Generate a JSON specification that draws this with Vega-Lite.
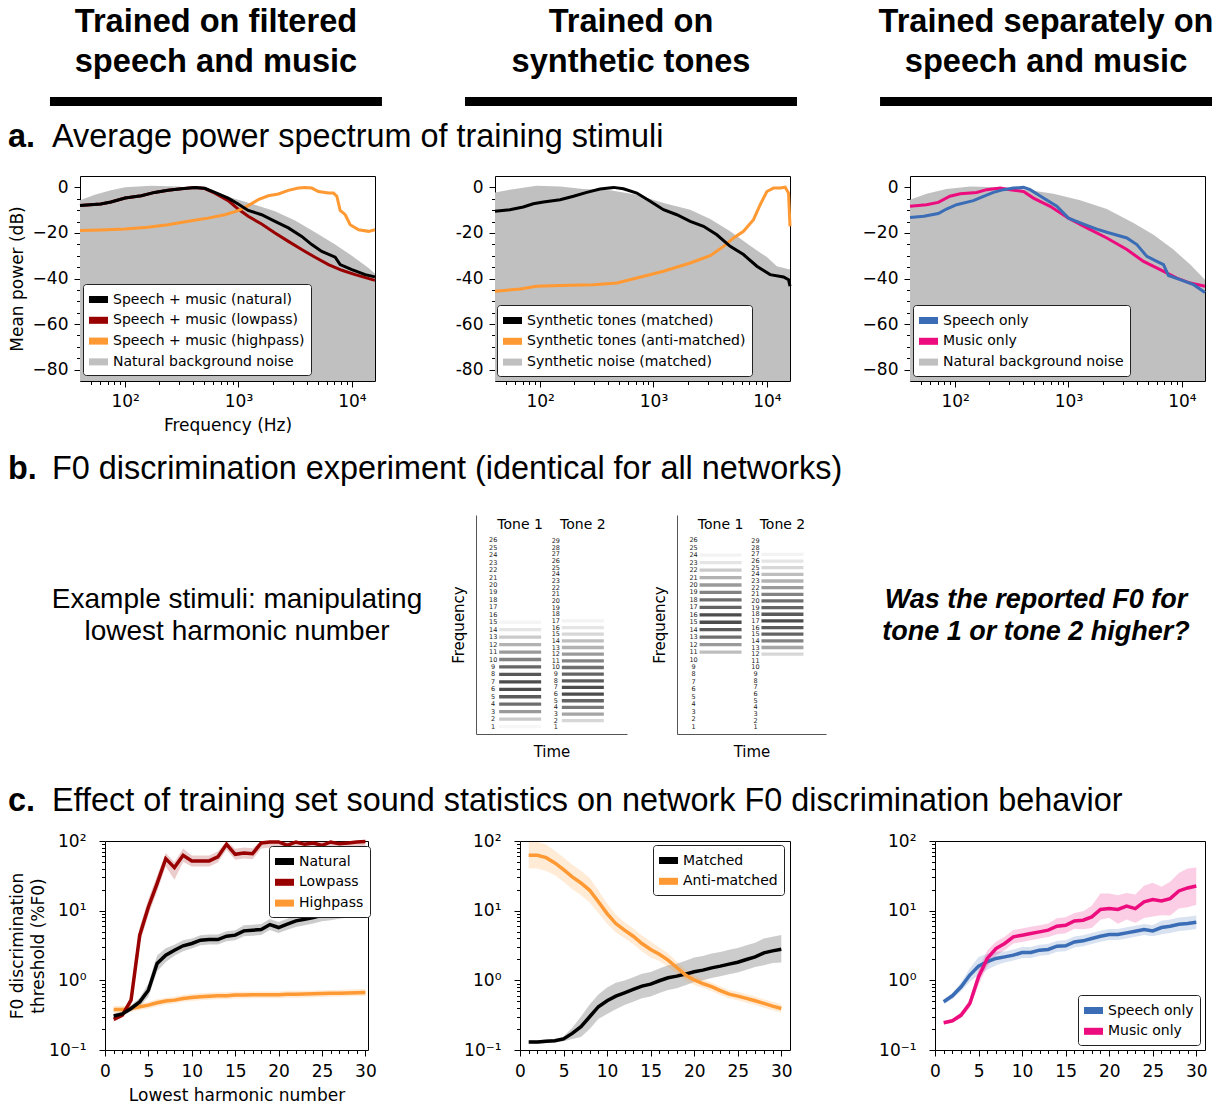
{
  "$schema": "https://vega.github.io/schema/vega-lite/v6.json",
  "width": 1225,
  "height": 1104,
  "autosize": {"type": "none"},
  "padding": 0,
  "background": "white",
  "config": {
    "view": {"stroke": null},
    "font": "DejaVu Sans",
    "axis": {
      "labelFont": "DejaVu Sans", "titleFont": "DejaVu Sans",
      "labelColor": "#000", "titleColor": "#000", "tickColor": "#000", "domainColor": "#000",
      "labelFontSize": 17, "titleFontSize": 17, "titleFontWeight": "normal",
      "grid": false, "tickWidth": 1, "domainWidth": 1,
      "labelOverlap": false, "labelFlush": false, "labelBound": false
    },
    "legend": {
      "orient": "none", "title": null,
      "labelFont": "DejaVu Sans", "labelFontSize": 14, "labelColor": "#000",
      "symbolType": "M-1,-0.37H1V0.37H-1Z", "symbolSize": 361,
      "symbolStrokeWidth": 0, "symbolOpacity": 1,
      "fillColor": "white", "strokeColor": "#222", "cornerRadius": 3,
      "padding": 6, "rowPadding": 3.8, "labelOffset": 5, "labelLimit": 400
    }
  },
  "resolve": {
    "scale": {"x": "independent", "y": "independent", "color": "independent"},
    "axis": {"x": "independent", "y": "independent"},
    "legend": {"color": "independent"}
  },
  "datasets": {
    "a1": [
      {"f":40,"db":-7.9,"s":"Speech + music (lowpass)"},{"f":61,"db":-7.3,"s":"Speech + music (lowpass)"},{"f":75,"db":-6.4,"s":"Speech + music (lowpass)"},{"f":100,"db":-4.7,"s":"Speech + music (lowpass)"},{"f":139,"db":-3.7,"s":"Speech + music (lowpass)"},{"f":182,"db":-2.2,"s":"Speech + music (lowpass)"},{"f":239,"db":-1.3,"s":"Speech + music (lowpass)"},{"f":313,"db":-0.6,"s":"Speech + music (lowpass)"},{"f":411,"db":0,"s":"Speech + music (lowpass)"},{"f":504,"db":-0.5,"s":"Speech + music (lowpass)"},{"f":618,"db":-2.5,"s":"Speech + music (lowpass)"},{"f":811,"db":-5.8,"s":"Speech + music (lowpass)"},{"f":993,"db":-9.5,"s":"Speech + music (lowpass)"},{"f":1218,"db":-12.7,"s":"Speech + music (lowpass)"},{"f":1599,"db":-16.1,"s":"Speech + music (lowpass)"},{"f":2099,"db":-20,"s":"Speech + music (lowpass)"},{"f":2754,"db":-23.7,"s":"Speech + music (lowpass)"},{"f":3613,"db":-27.3,"s":"Speech + music (lowpass)"},{"f":4739,"db":-30.7,"s":"Speech + music (lowpass)"},{"f":6218,"db":-33.9,"s":"Speech + music (lowpass)"},{"f":8167,"db":-36.4,"s":"Speech + music (lowpass)"},{"f":10706,"db":-38.3,"s":"Speech + music (lowpass)"},{"f":16000,"db":-40.8,"s":"Speech + music (lowpass)"},
      {"f":40,"db":-18.9,"s":"Speech + music (highpass)"},{"f":61,"db":-18.7,"s":"Speech + music (highpass)"},{"f":100,"db":-18.3,"s":"Speech + music (highpass)"},{"f":158,"db":-17.5,"s":"Speech + music (highpass)"},{"f":239,"db":-16.4,"s":"Speech + music (highpass)"},{"f":359,"db":-14.9,"s":"Speech + music (highpass)"},{"f":539,"db":-13.5,"s":"Speech + music (highpass)"},{"f":757,"db":-12,"s":"Speech + music (highpass)"},{"f":993,"db":-10.2,"s":"Speech + music (highpass)"},{"f":1218,"db":-8,"s":"Speech + music (highpass)"},{"f":1494,"db":-5.4,"s":"Speech + music (highpass)"},{"f":1832,"db":-3.7,"s":"Speech + music (highpass)"},{"f":2245,"db":-2.9,"s":"Speech + music (highpass)"},{"f":2754,"db":-1.3,"s":"Speech + music (highpass)"},{"f":3377,"db":-0.3,"s":"Speech + music (highpass)"},{"f":3866,"db":0,"s":"Speech + music (highpass)"},{"f":4428,"db":-0.3,"s":"Speech + music (highpass)"},{"f":5070,"db":-1.8,"s":"Speech + music (highpass)"},{"f":6218,"db":-2.5,"s":"Speech + music (highpass)"},{"f":6887,"db":-2.5,"s":"Speech + music (highpass)"},{"f":7370,"db":-3.9,"s":"Speech + music (highpass)"},{"f":7887,"db":-10.1,"s":"Speech + music (highpass)"},{"f":8738,"db":-12,"s":"Speech + music (highpass)"},{"f":9662,"db":-16.4,"s":"Speech + music (highpass)"},{"f":11460,"db":-18.6,"s":"Speech + music (highpass)"},{"f":14040,"db":-19.3,"s":"Speech + music (highpass)"},{"f":16000,"db":-18.6,"s":"Speech + music (highpass)"},
      {"f":40,"db":-7.9,"s":"Speech + music (natural)"},{"f":61,"db":-7.3,"s":"Speech + music (natural)"},{"f":75,"db":-6.4,"s":"Speech + music (natural)"},{"f":100,"db":-4.7,"s":"Speech + music (natural)"},{"f":139,"db":-3.7,"s":"Speech + music (natural)"},{"f":182,"db":-2.2,"s":"Speech + music (natural)"},{"f":239,"db":-1.3,"s":"Speech + music (natural)"},{"f":313,"db":-0.6,"s":"Speech + music (natural)"},{"f":411,"db":0,"s":"Speech + music (natural)"},{"f":504,"db":-0.4,"s":"Speech + music (natural)"},{"f":618,"db":-2.2,"s":"Speech + music (natural)"},{"f":811,"db":-4.7,"s":"Speech + music (natural)"},{"f":993,"db":-7.3,"s":"Speech + music (natural)"},{"f":1218,"db":-10.1,"s":"Speech + music (natural)"},{"f":1599,"db":-12,"s":"Speech + music (natural)"},{"f":2099,"db":-14.9,"s":"Speech + music (natural)"},{"f":2754,"db":-17.8,"s":"Speech + music (natural)"},{"f":3613,"db":-21.5,"s":"Speech + music (natural)"},{"f":4428,"db":-25.1,"s":"Speech + music (natural)"},{"f":5428,"db":-28.1,"s":"Speech + music (natural)"},{"f":7125,"db":-30.6,"s":"Speech + music (natural)"},{"f":7887,"db":-33.9,"s":"Speech + music (natural)"},{"f":10000,"db":-36.1,"s":"Speech + music (natural)"},{"f":13120,"db":-38.3,"s":"Speech + music (natural)"},{"f":16000,"db":-39.3,"s":"Speech + music (natural)"},
      {"f":40,"db":-5.7,"s":"Natural background noise"},{"f":54,"db":-3.2,"s":"Natural background noise"},{"f":75,"db":-1.3,"s":"Natural background noise"},{"f":100,"db":0.1,"s":"Natural background noise"},{"f":170,"db":0.7,"s":"Natural background noise"},{"f":292,"db":0.4,"s":"Natural background noise"},{"f":471,"db":-0.7,"s":"Natural background noise"},{"f":708,"db":-3.2,"s":"Natural background noise"},{"f":993,"db":-5.4,"s":"Natural background noise"},{"f":1396,"db":-7.6,"s":"Natural background noise"},{"f":2099,"db":-10.5,"s":"Natural background noise"},{"f":3155,"db":-14.5,"s":"Natural background noise"},{"f":4739,"db":-19.7,"s":"Natural background noise"},{"f":7125,"db":-25.1,"s":"Natural background noise"},{"f":10000,"db":-30,"s":"Natural background noise"},{"f":14040,"db":-35.4,"s":"Natural background noise"},{"f":16000,"db":-37.9,"s":"Natural background noise"}
    ],
    "a2": [
      {"f":40,"db":-45.6,"s":"Synthetic tones (anti-matched)"},{"f":67,"db":-44.6,"s":"Synthetic tones (anti-matched)"},{"f":93,"db":-43.4,"s":"Synthetic tones (anti-matched)"},{"f":150,"db":-43.1,"s":"Synthetic tones (anti-matched)"},{"f":296,"db":-42.7,"s":"Synthetic tones (anti-matched)"},{"f":475,"db":-42,"s":"Synthetic tones (anti-matched)"},{"f":713,"db":-39.8,"s":"Synthetic tones (anti-matched)"},{"f":1225,"db":-36.8,"s":"Synthetic tones (anti-matched)"},{"f":2108,"db":-33.2,"s":"Synthetic tones (anti-matched)"},{"f":3162,"db":-30,"s":"Synthetic tones (anti-matched)"},{"f":4148,"db":-25.9,"s":"Synthetic tones (anti-matched)"},{"f":5077,"db":-22.2,"s":"Synthetic tones (anti-matched)"},{"f":6222,"db":-19.3,"s":"Synthetic tones (anti-matched)"},{"f":7621,"db":-14.2,"s":"Synthetic tones (anti-matched)"},{"f":8733,"db":-7.6,"s":"Synthetic tones (anti-matched)"},{"f":10000,"db":-1.8,"s":"Synthetic tones (anti-matched)"},{"f":11460,"db":-0.3,"s":"Synthetic tones (anti-matched)"},{"f":13120,"db":-0.3,"s":"Synthetic tones (anti-matched)"},{"f":14520,"db":0.1,"s":"Synthetic tones (anti-matched)"},{"f":15530,"db":-2.5,"s":"Synthetic tones (anti-matched)"},{"f":16000,"db":-17.1,"s":"Synthetic tones (anti-matched)"},
      {"f":40,"db":-10.5,"s":"Synthetic tones (matched)"},{"f":54,"db":-9.8,"s":"Synthetic tones (matched)"},{"f":71,"db":-8.6,"s":"Synthetic tones (matched)"},{"f":87,"db":-7.2,"s":"Synthetic tones (matched)"},{"f":107,"db":-6.4,"s":"Synthetic tones (matched)"},{"f":150,"db":-5.4,"s":"Synthetic tones (matched)"},{"f":197,"db":-3.9,"s":"Synthetic tones (matched)"},{"f":258,"db":-2.2,"s":"Synthetic tones (matched)"},{"f":338,"db":-0.7,"s":"Synthetic tones (matched)"},{"f":444,"db":0,"s":"Synthetic tones (matched)"},{"f":543,"db":-0.6,"s":"Synthetic tones (matched)"},{"f":713,"db":-2.5,"s":"Synthetic tones (matched)"},{"f":935,"db":-6.1,"s":"Synthetic tones (matched)"},{"f":1225,"db":-9.8,"s":"Synthetic tones (matched)"},{"f":1607,"db":-12,"s":"Synthetic tones (matched)"},{"f":2108,"db":-14.9,"s":"Synthetic tones (matched)"},{"f":2761,"db":-17.1,"s":"Synthetic tones (matched)"},{"f":3622,"db":-20.8,"s":"Synthetic tones (matched)"},{"f":4747,"db":-25.9,"s":"Synthetic tones (matched)"},{"f":6222,"db":-29.5,"s":"Synthetic tones (matched)"},{"f":8166,"db":-34.6,"s":"Synthetic tones (matched)"},{"f":10690,"db":-38.3,"s":"Synthetic tones (matched)"},{"f":14030,"db":-39.3,"s":"Synthetic tones (matched)"},{"f":15530,"db":-40.5,"s":"Synthetic tones (matched)"},{"f":16000,"db":-43.4,"s":"Synthetic tones (matched)"},
      {"f":40,"db":-2.2,"s":"Synthetic noise (matched)"},{"f":54,"db":-1,"s":"Synthetic noise (matched)"},{"f":93,"db":0.7,"s":"Synthetic noise (matched)"},{"f":150,"db":0.4,"s":"Synthetic noise (matched)"},{"f":241,"db":-0.7,"s":"Synthetic noise (matched)"},{"f":415,"db":-1.3,"s":"Synthetic noise (matched)"},{"f":713,"db":-3.2,"s":"Synthetic noise (matched)"},{"f":1225,"db":-6.9,"s":"Synthetic noise (matched)"},{"f":2108,"db":-9.8,"s":"Synthetic noise (matched)"},{"f":3162,"db":-13.9,"s":"Synthetic noise (matched)"},{"f":4747,"db":-19.3,"s":"Synthetic noise (matched)"},{"f":7125,"db":-25.6,"s":"Synthetic noise (matched)"},{"f":10000,"db":-30.6,"s":"Synthetic noise (matched)"},{"f":12250,"db":-34.6,"s":"Synthetic noise (matched)"},{"f":16000,"db":-36.1,"s":"Synthetic noise (matched)"}
    ],
    "a3": [
      {"f":40,"db":-8.3,"s":"Music only"},{"f":56,"db":-7.6,"s":"Music only"},{"f":71,"db":-6.6,"s":"Music only"},{"f":90,"db":-3.9,"s":"Music only"},{"f":111,"db":-2.8,"s":"Music only"},{"f":155,"db":-2.2,"s":"Music only"},{"f":190,"db":-1,"s":"Music only"},{"f":250,"db":-0.3,"s":"Music only"},{"f":305,"db":-1,"s":"Music only"},{"f":401,"db":-1.8,"s":"Music only"},{"f":491,"db":-4.7,"s":"Music only"},{"f":689,"db":-8.3,"s":"Music only"},{"f":1000,"db":-13.5,"s":"Music only"},{"f":1451,"db":-17.8,"s":"Music only"},{"f":2179,"db":-22.2,"s":"Music only"},{"f":3273,"db":-27.3,"s":"Music only"},{"f":4592,"db":-32.5,"s":"Music only"},{"f":6439,"db":-36.1,"s":"Music only"},{"f":9036,"db":-39.8,"s":"Music only"},{"f":11850,"db":-42,"s":"Music only"},{"f":16000,"db":-43.4,"s":"Music only"},
      {"f":40,"db":-13.2,"s":"Speech only"},{"f":53,"db":-12.7,"s":"Speech only"},{"f":71,"db":-11.5,"s":"Speech only"},{"f":84,"db":-9.5,"s":"Speech only"},{"f":103,"db":-7.6,"s":"Speech only"},{"f":145,"db":-5.8,"s":"Speech only"},{"f":178,"db":-3.9,"s":"Speech only"},{"f":218,"db":-2.2,"s":"Speech only"},{"f":267,"db":-1,"s":"Speech only"},{"f":327,"db":-0.3,"s":"Speech only"},{"f":401,"db":0,"s":"Speech only"},{"f":459,"db":-1,"s":"Speech only"},{"f":601,"db":-4.7,"s":"Speech only"},{"f":789,"db":-8.3,"s":"Speech only"},{"f":1000,"db":-13.5,"s":"Speech only"},{"f":1356,"db":-16.1,"s":"Speech only"},{"f":1778,"db":-18.3,"s":"Speech only"},{"f":2179,"db":-19.7,"s":"Speech only"},{"f":3273,"db":-22.2,"s":"Speech only"},{"f":4010,"db":-25.1,"s":"Speech only"},{"f":4913,"db":-30.3,"s":"Speech only"},{"f":6013,"db":-32.5,"s":"Speech only"},{"f":6887,"db":-33.9,"s":"Speech only"},{"f":7621,"db":-38.7,"s":"Speech only"},{"f":9662,"db":-40.5,"s":"Speech only"},{"f":12680,"db":-42.7,"s":"Speech only"},{"f":16000,"db":-46.1,"s":"Speech only"},
      {"f":40,"db":-5.4,"s":"Natural background noise"},{"f":56,"db":-2.8,"s":"Natural background noise"},{"f":84,"db":-0.7,"s":"Natural background noise"},{"f":136,"db":0.4,"s":"Natural background noise"},{"f":233,"db":0.1,"s":"Natural background noise"},{"f":429,"db":-1,"s":"Natural background noise"},{"f":738,"db":-2.8,"s":"Natural background noise"},{"f":1268,"db":-5.7,"s":"Natural background noise"},{"f":2179,"db":-9.5,"s":"Natural background noise"},{"f":3748,"db":-15.6,"s":"Natural background noise"},{"f":5623,"db":-20.8,"s":"Natural background noise"},{"f":8433,"db":-27.3,"s":"Natural background noise"},{"f":11850,"db":-33.9,"s":"Natural background noise"},{"f":16000,"db":-40.5,"s":"Natural background noise"}
    ],
    "harm": [
      {"t":"Tone 1","n":1,"f":1,"v1":0.04,"v2":0},{"t":"Tone 1","n":2,"f":2,"v1":0.27,"v2":0},{"t":"Tone 1","n":3,"f":3,"v1":0.53,"v2":0},{"t":"Tone 1","n":4,"f":4,"v1":0.8,"v2":0},{"t":"Tone 1","n":5,"f":5,"v1":0.93,"v2":0},{"t":"Tone 1","n":6,"f":6,"v1":1,"v2":0},{"t":"Tone 1","n":7,"f":7,"v1":1,"v2":0},{"t":"Tone 1","n":8,"f":8,"v1":0.95,"v2":0},{"t":"Tone 1","n":9,"f":9,"v1":0.85,"v2":0},{"t":"Tone 1","n":10,"f":10,"v1":0.67,"v2":0},{"t":"Tone 1","n":11,"f":11,"v1":0.53,"v2":0.33},{"t":"Tone 1","n":12,"f":12,"v1":0.4,"v2":0.53},{"t":"Tone 1","n":13,"f":13,"v1":0.27,"v2":0.8},{"t":"Tone 1","n":14,"f":14,"v1":0.13,"v2":0.93},{"t":"Tone 1","n":15,"f":15,"v1":0.05,"v2":1},{"t":"Tone 1","n":16,"f":16,"v1":0,"v2":1},{"t":"Tone 1","n":17,"f":17,"v1":0,"v2":0.87},{"t":"Tone 1","n":18,"f":18,"v1":0,"v2":0.8},{"t":"Tone 1","n":19,"f":19,"v1":0,"v2":0.67},{"t":"Tone 1","n":20,"f":20,"v1":0,"v2":0.53},{"t":"Tone 1","n":21,"f":21,"v1":0,"v2":0.4},{"t":"Tone 1","n":22,"f":22,"v1":0,"v2":0.27},{"t":"Tone 1","n":23,"f":23,"v1":0,"v2":0.13},{"t":"Tone 1","n":24,"f":24,"v1":0,"v2":0.06},{"t":"Tone 1","n":25,"f":25,"v1":0,"v2":0},{"t":"Tone 1","n":26,"f":26,"v1":0,"v2":0},
      {"t":"Tone 2","n":1,"f":0.893,"v1":0,"v2":0},{"t":"Tone 2","n":2,"f":1.786,"v1":0.2,"v2":0},{"t":"Tone 2","n":3,"f":2.679,"v1":0.47,"v2":0},{"t":"Tone 2","n":4,"f":3.572,"v1":0.73,"v2":0},{"t":"Tone 2","n":5,"f":4.465,"v1":0.87,"v2":0},{"t":"Tone 2","n":6,"f":5.358,"v1":1,"v2":0},{"t":"Tone 2","n":7,"f":6.251,"v1":1,"v2":0},{"t":"Tone 2","n":8,"f":7.144,"v1":0.93,"v2":0},{"t":"Tone 2","n":9,"f":8.037,"v1":0.87,"v2":0},{"t":"Tone 2","n":10,"f":8.93,"v1":0.8,"v2":0},{"t":"Tone 2","n":11,"f":9.823,"v1":0.67,"v2":0},{"t":"Tone 2","n":12,"f":10.716,"v1":0.53,"v2":0.2},{"t":"Tone 2","n":13,"f":11.609,"v1":0.4,"v2":0.47},{"t":"Tone 2","n":14,"f":12.502,"v1":0.33,"v2":0.67},{"t":"Tone 2","n":15,"f":13.395,"v1":0.2,"v2":0.87},{"t":"Tone 2","n":16,"f":14.288,"v1":0.13,"v2":0.93},{"t":"Tone 2","n":17,"f":15.181,"v1":0.06,"v2":1},{"t":"Tone 2","n":18,"f":16.074,"v1":0,"v2":0.93},{"t":"Tone 2","n":19,"f":16.967,"v1":0,"v2":0.87},{"t":"Tone 2","n":20,"f":17.86,"v1":0,"v2":0.8},{"t":"Tone 2","n":21,"f":18.753,"v1":0,"v2":0.67},{"t":"Tone 2","n":22,"f":19.646,"v1":0,"v2":0.53},{"t":"Tone 2","n":23,"f":20.539,"v1":0,"v2":0.4},{"t":"Tone 2","n":24,"f":21.432,"v1":0,"v2":0.33},{"t":"Tone 2","n":25,"f":22.325,"v1":0,"v2":0.2},{"t":"Tone 2","n":26,"f":23.218,"v1":0,"v2":0.13},{"t":"Tone 2","n":27,"f":24.111,"v1":0,"v2":0.06},{"t":"Tone 2","n":28,"f":25.004,"v1":0,"v2":0},{"t":"Tone 2","n":29,"f":25.897,"v1":0,"v2":0}
    ],
    "c1": [
      {"x":1,"y":0.382,"lo":0.341,"hi":0.428,"s":"Highpass"},{"x":2,"y":0.382,"lo":0.341,"hi":0.428,"s":"Highpass"},{"x":3,"y":0.395,"lo":0.353,"hi":0.442,"s":"Highpass"},{"x":4,"y":0.418,"lo":0.373,"hi":0.468,"s":"Highpass"},{"x":5,"y":0.441,"lo":0.394,"hi":0.494,"s":"Highpass"},{"x":6,"y":0.477,"lo":0.426,"hi":0.534,"s":"Highpass"},{"x":7,"y":0.504,"lo":0.45,"hi":0.564,"s":"Highpass"},{"x":8,"y":0.52,"lo":0.464,"hi":0.582,"s":"Highpass"},{"x":9,"y":0.55,"lo":0.491,"hi":0.616,"s":"Highpass"},{"x":10,"y":0.568,"lo":0.507,"hi":0.636,"s":"Highpass"},{"x":11,"y":0.58,"lo":0.518,"hi":0.65,"s":"Highpass"},{"x":12,"y":0.59,"lo":0.527,"hi":0.661,"s":"Highpass"},{"x":13,"y":0.6,"lo":0.536,"hi":0.672,"s":"Highpass"},{"x":14,"y":0.6,"lo":0.536,"hi":0.672,"s":"Highpass"},{"x":15,"y":0.614,"lo":0.548,"hi":0.688,"s":"Highpass"},{"x":16,"y":0.614,"lo":0.548,"hi":0.688,"s":"Highpass"},{"x":17,"y":0.62,"lo":0.554,"hi":0.694,"s":"Highpass"},{"x":18,"y":0.62,"lo":0.554,"hi":0.694,"s":"Highpass"},{"x":19,"y":0.62,"lo":0.554,"hi":0.694,"s":"Highpass"},{"x":20,"y":0.62,"lo":0.554,"hi":0.694,"s":"Highpass"},{"x":21,"y":0.63,"lo":0.563,"hi":0.706,"s":"Highpass"},{"x":22,"y":0.63,"lo":0.563,"hi":0.706,"s":"Highpass"},{"x":23,"y":0.635,"lo":0.567,"hi":0.711,"s":"Highpass"},{"x":24,"y":0.64,"lo":0.571,"hi":0.717,"s":"Highpass"},{"x":25,"y":0.645,"lo":0.576,"hi":0.722,"s":"Highpass"},{"x":26,"y":0.65,"lo":0.58,"hi":0.728,"s":"Highpass"},{"x":27,"y":0.655,"lo":0.585,"hi":0.734,"s":"Highpass"},{"x":28,"y":0.66,"lo":0.589,"hi":0.739,"s":"Highpass"},{"x":29,"y":0.665,"lo":0.594,"hi":0.745,"s":"Highpass"},{"x":30,"y":0.67,"lo":0.598,"hi":0.75,"s":"Highpass"},
      {"x":1,"y":0.275,"lo":0.255,"hi":0.297,"s":"Lowpass"},{"x":2,"y":0.317,"lo":0.294,"hi":0.342,"s":"Lowpass"},{"x":3,"y":0.52,"lo":0.452,"hi":0.598,"s":"Lowpass"},{"x":4,"y":4.45,"lo":3.42,"hi":5.79,"s":"Lowpass"},{"x":5,"y":11.3,"lo":8.69,"hi":14.7,"s":"Lowpass"},{"x":6,"y":24.5,"lo":18.8,"hi":31.9,"s":"Lowpass"},{"x":7,"y":55.8,"lo":42.9,"hi":67,"s":"Lowpass"},{"x":8,"y":41.5,"lo":27.7,"hi":49.8,"s":"Lowpass"},{"x":9,"y":62.4,"lo":49.9,"hi":78,"s":"Lowpass"},{"x":10,"y":51.7,"lo":43.1,"hi":62,"s":"Lowpass"},{"x":11,"y":51.7,"lo":43.1,"hi":62,"s":"Lowpass"},{"x":12,"y":51.7,"lo":43.1,"hi":62,"s":"Lowpass"},{"x":13,"y":59,"lo":49.2,"hi":70.8,"s":"Lowpass"},{"x":14,"y":89.6,"lo":74.7,"hi":108,"s":"Lowpass"},{"x":15,"y":64.4,"lo":53.7,"hi":77.3,"s":"Lowpass"},{"x":16,"y":67.3,"lo":56.1,"hi":80.8,"s":"Lowpass"},{"x":17,"y":65.8,"lo":54.8,"hi":79,"s":"Lowpass"},{"x":18,"y":93.6,"lo":78,"hi":112,"s":"Lowpass"},{"x":19,"y":96.8,"lo":80.7,"hi":116,"s":"Lowpass"},{"x":20,"y":96.8,"lo":80.7,"hi":116,"s":"Lowpass"},{"x":21,"y":86.7,"lo":72.3,"hi":104,"s":"Lowpass"},{"x":22,"y":96.8,"lo":80.7,"hi":116,"s":"Lowpass"},{"x":23,"y":89.6,"lo":74.7,"hi":108,"s":"Lowpass"},{"x":24,"y":93.6,"lo":78,"hi":112,"s":"Lowpass"},{"x":25,"y":86.7,"lo":72.3,"hi":104,"s":"Lowpass"},{"x":26,"y":96.8,"lo":80.7,"hi":116,"s":"Lowpass"},{"x":27,"y":91,"lo":75.8,"hi":109,"s":"Lowpass"},{"x":28,"y":93.6,"lo":78,"hi":112,"s":"Lowpass"},{"x":29,"y":96.8,"lo":80.7,"hi":116,"s":"Lowpass"},{"x":30,"y":98,"lo":81.7,"hi":118,"s":"Lowpass"},
      {"x":1,"y":0.307,"lo":0.284,"hi":0.332,"s":"Natural"},{"x":2,"y":0.33,"lo":0.306,"hi":0.356,"s":"Natural"},{"x":3,"y":0.395,"lo":0.359,"hi":0.435,"s":"Natural"},{"x":4,"y":0.49,"lo":0.426,"hi":0.564,"s":"Natural"},{"x":5,"y":0.72,"lo":0.576,"hi":0.9,"s":"Natural"},{"x":6,"y":1.75,"lo":1.35,"hi":2.28,"s":"Natural"},{"x":7,"y":2.3,"lo":1.84,"hi":2.88,"s":"Natural"},{"x":8,"y":2.71,"lo":2.26,"hi":3.25,"s":"Natural"},{"x":9,"y":3.13,"lo":2.61,"hi":3.76,"s":"Natural"},{"x":10,"y":3.38,"lo":2.86,"hi":3.99,"s":"Natural"},{"x":11,"y":3.77,"lo":3.19,"hi":4.45,"s":"Natural"},{"x":12,"y":3.85,"lo":3.26,"hi":4.54,"s":"Natural"},{"x":13,"y":3.85,"lo":3.26,"hi":4.54,"s":"Natural"},{"x":14,"y":4.3,"lo":3.64,"hi":5.07,"s":"Natural"},{"x":15,"y":4.45,"lo":3.77,"hi":5.25,"s":"Natural"},{"x":16,"y":5.13,"lo":4.28,"hi":6.16,"s":"Natural"},{"x":17,"y":5.25,"lo":4.38,"hi":6.3,"s":"Natural"},{"x":18,"y":5.36,"lo":4.47,"hi":6.43,"s":"Natural"},{"x":19,"y":6.32,"lo":5.27,"hi":7.58,"s":"Natural"},{"x":20,"y":5.73,"lo":4.78,"hi":6.88,"s":"Natural"},{"x":21,"y":6.39,"lo":5.33,"hi":7.67,"s":"Natural"},{"x":22,"y":7.13,"lo":5.84,"hi":8.7,"s":"Natural"},{"x":23,"y":7.54,"lo":6.18,"hi":9.2,"s":"Natural"},{"x":24,"y":7.96,"lo":6.52,"hi":9.71,"s":"Natural"},{"x":25,"y":8.6,"lo":7.05,"hi":10.5,"s":"Natural"},{"x":26,"y":9.1,"lo":7.28,"hi":11.4,"s":"Natural"},{"x":27,"y":9.6,"lo":7.68,"hi":12,"s":"Natural"},{"x":28,"y":10,"lo":8,"hi":12.5,"s":"Natural"},{"x":29,"y":10.2,"lo":8.16,"hi":12.8,"s":"Natural"},{"x":30,"y":10.4,"lo":8.32,"hi":13,"s":"Natural"}
    ],
    "c2": [
      {"x":1,"y":0.13,"lo":0.123,"hi":0.138,"s":"Matched"},{"x":2,"y":0.13,"lo":0.123,"hi":0.138,"s":"Matched"},{"x":3,"y":0.134,"lo":0.126,"hi":0.142,"s":"Matched"},{"x":4,"y":0.136,"lo":0.128,"hi":0.144,"s":"Matched"},{"x":5,"y":0.144,"lo":0.133,"hi":0.156,"s":"Matched"},{"x":6,"y":0.173,"lo":0.144,"hi":0.208,"s":"Matched"},{"x":7,"y":0.216,"lo":0.154,"hi":0.302,"s":"Matched"},{"x":8,"y":0.3,"lo":0.2,"hi":0.45,"s":"Matched"},{"x":9,"y":0.418,"lo":0.279,"hi":0.627,"s":"Matched"},{"x":10,"y":0.509,"lo":0.328,"hi":0.789,"s":"Matched"},{"x":11,"y":0.594,"lo":0.383,"hi":0.921,"s":"Matched"},{"x":12,"y":0.663,"lo":0.442,"hi":0.995,"s":"Matched"},{"x":13,"y":0.74,"lo":0.493,"hi":1.11,"s":"Matched"},{"x":14,"y":0.826,"lo":0.551,"hi":1.24,"s":"Matched"},{"x":15,"y":0.882,"lo":0.588,"hi":1.32,"s":"Matched"},{"x":16,"y":0.986,"lo":0.657,"hi":1.48,"s":"Matched"},{"x":17,"y":1.09,"lo":0.727,"hi":1.64,"s":"Matched"},{"x":18,"y":1.15,"lo":0.767,"hi":1.73,"s":"Matched"},{"x":19,"y":1.23,"lo":0.848,"hi":1.91,"s":"Matched"},{"x":20,"y":1.33,"lo":0.95,"hi":2.13,"s":"Matched"},{"x":21,"y":1.4,"lo":1,"hi":2.24,"s":"Matched"},{"x":22,"y":1.51,"lo":1.08,"hi":2.42,"s":"Matched"},{"x":23,"y":1.6,"lo":1.14,"hi":2.56,"s":"Matched"},{"x":24,"y":1.71,"lo":1.22,"hi":2.74,"s":"Matched"},{"x":25,"y":1.82,"lo":1.3,"hi":2.91,"s":"Matched"},{"x":26,"y":1.99,"lo":1.42,"hi":3.18,"s":"Matched"},{"x":27,"y":2.17,"lo":1.55,"hi":3.47,"s":"Matched"},{"x":28,"y":2.48,"lo":1.65,"hi":3.97,"s":"Matched"},{"x":29,"y":2.65,"lo":1.77,"hi":4.24,"s":"Matched"},{"x":30,"y":2.8,"lo":1.81,"hi":4.48,"s":"Matched"},
      {"x":1,"y":62.4,"lo":40.3,"hi":96.7,"s":"Anti-matched"},{"x":2,"y":62.4,"lo":40.3,"hi":96.7,"s":"Anti-matched"},{"x":3,"y":57.7,"lo":37.2,"hi":89.4,"s":"Anti-matched"},{"x":4,"y":48.4,"lo":32.3,"hi":72.6,"s":"Anti-matched"},{"x":5,"y":38.8,"lo":25.9,"hi":58.2,"s":"Anti-matched"},{"x":6,"y":30.5,"lo":20.3,"hi":45.8,"s":"Anti-matched"},{"x":7,"y":25,"lo":16.7,"hi":37.5,"s":"Anti-matched"},{"x":8,"y":19.6,"lo":13.1,"hi":29.4,"s":"Anti-matched"},{"x":9,"y":13.4,"lo":9.24,"hi":19.4,"s":"Anti-matched"},{"x":10,"y":9.08,"lo":6.49,"hi":12.7,"s":"Anti-matched"},{"x":11,"y":6.53,"lo":4.84,"hi":8.82,"s":"Anti-matched"},{"x":12,"y":5.25,"lo":4.04,"hi":6.83,"s":"Anti-matched"},{"x":13,"y":4.3,"lo":3.31,"hi":5.59,"s":"Anti-matched"},{"x":14,"y":3.38,"lo":2.6,"hi":4.39,"s":"Anti-matched"},{"x":15,"y":2.77,"lo":2.13,"hi":3.6,"s":"Anti-matched"},{"x":16,"y":2.37,"lo":1.9,"hi":2.96,"s":"Anti-matched"},{"x":17,"y":1.95,"lo":1.56,"hi":2.44,"s":"Anti-matched"},{"x":18,"y":1.53,"lo":1.25,"hi":1.87,"s":"Anti-matched"},{"x":19,"y":1.19,"lo":0.992,"hi":1.43,"s":"Anti-matched"},{"x":20,"y":1.01,"lo":0.856,"hi":1.19,"s":"Anti-matched"},{"x":21,"y":0.9,"lo":0.783,"hi":1.04,"s":"Anti-matched"},{"x":22,"y":0.81,"lo":0.704,"hi":0.932,"s":"Anti-matched"},{"x":23,"y":0.71,"lo":0.617,"hi":0.817,"s":"Anti-matched"},{"x":24,"y":0.634,"lo":0.551,"hi":0.729,"s":"Anti-matched"},{"x":25,"y":0.594,"lo":0.517,"hi":0.683,"s":"Anti-matched"},{"x":26,"y":0.55,"lo":0.478,"hi":0.633,"s":"Anti-matched"},{"x":27,"y":0.509,"lo":0.443,"hi":0.585,"s":"Anti-matched"},{"x":28,"y":0.466,"lo":0.405,"hi":0.536,"s":"Anti-matched"},{"x":29,"y":0.427,"lo":0.371,"hi":0.491,"s":"Anti-matched"},{"x":30,"y":0.395,"lo":0.343,"hi":0.454,"s":"Anti-matched"}
    ],
    "c3": [
      {"x":1,"y":0.492,"lo":0.456,"hi":0.531,"s":"Speech only"},{"x":2,"y":0.6,"lo":0.545,"hi":0.66,"s":"Speech only"},{"x":3,"y":0.807,"lo":0.702,"hi":0.928,"s":"Speech only"},{"x":4,"y":1.19,"lo":0.952,"hi":1.49,"s":"Speech only"},{"x":5,"y":1.6,"lo":1.19,"hi":2.16,"s":"Speech only"},{"x":6,"y":1.85,"lo":1.42,"hi":2.41,"s":"Speech only"},{"x":7,"y":2.06,"lo":1.65,"hi":2.58,"s":"Speech only"},{"x":8,"y":2.17,"lo":1.81,"hi":2.6,"s":"Speech only"},{"x":9,"y":2.3,"lo":1.92,"hi":2.76,"s":"Speech only"},{"x":10,"y":2.51,"lo":2.09,"hi":3.01,"s":"Speech only"},{"x":11,"y":2.51,"lo":2.09,"hi":3.01,"s":"Speech only"},{"x":12,"y":2.71,"lo":2.26,"hi":3.25,"s":"Speech only"},{"x":13,"y":2.77,"lo":2.31,"hi":3.32,"s":"Speech only"},{"x":14,"y":3.09,"lo":2.58,"hi":3.71,"s":"Speech only"},{"x":15,"y":3.13,"lo":2.61,"hi":3.76,"s":"Speech only"},{"x":16,"y":3.56,"lo":2.97,"hi":4.27,"s":"Speech only"},{"x":17,"y":3.69,"lo":3.08,"hi":4.43,"s":"Speech only"},{"x":18,"y":3.98,"lo":3.32,"hi":4.78,"s":"Speech only"},{"x":19,"y":4.3,"lo":3.58,"hi":5.16,"s":"Speech only"},{"x":20,"y":4.54,"lo":3.78,"hi":5.45,"s":"Speech only"},{"x":21,"y":4.54,"lo":3.78,"hi":5.45,"s":"Speech only"},{"x":22,"y":4.8,"lo":4,"hi":5.76,"s":"Speech only"},{"x":23,"y":5.07,"lo":4.23,"hi":6.08,"s":"Speech only"},{"x":24,"y":5.36,"lo":4.47,"hi":6.43,"s":"Speech only"},{"x":25,"y":5.13,"lo":4.28,"hi":6.16,"s":"Speech only"},{"x":26,"y":5.73,"lo":4.58,"hi":7.16,"s":"Speech only"},{"x":27,"y":5.98,"lo":4.78,"hi":7.48,"s":"Speech only"},{"x":28,"y":6.39,"lo":5.11,"hi":7.99,"s":"Speech only"},{"x":29,"y":6.53,"lo":5.22,"hi":8.16,"s":"Speech only"},{"x":30,"y":6.82,"lo":5.46,"hi":8.53,"s":"Speech only"},
      {"x":1,"y":0.246,"lo":0.232,"hi":0.261,"s":"Music only"},{"x":2,"y":0.263,"lo":0.248,"hi":0.279,"s":"Music only"},{"x":3,"y":0.317,"lo":0.288,"hi":0.349,"s":"Music only"},{"x":4,"y":0.466,"lo":0.405,"hi":0.536,"s":"Music only"},{"x":5,"y":1.12,"lo":0.862,"hi":1.46,"s":"Music only"},{"x":6,"y":2.06,"lo":1.58,"hi":2.68,"s":"Music only"},{"x":7,"y":2.86,"lo":2.29,"hi":3.58,"s":"Music only"},{"x":8,"y":3.38,"lo":2.7,"hi":4.23,"s":"Music only"},{"x":9,"y":4.21,"lo":3.37,"hi":5.26,"s":"Music only"},{"x":10,"y":4.45,"lo":3.56,"hi":5.56,"s":"Music only"},{"x":11,"y":4.7,"lo":3.76,"hi":5.88,"s":"Music only"},{"x":12,"y":4.96,"lo":3.97,"hi":6.2,"s":"Music only"},{"x":13,"y":5.25,"lo":4.2,"hi":6.56,"s":"Music only"},{"x":14,"y":5.98,"lo":4.6,"hi":7.77,"s":"Music only"},{"x":15,"y":6.18,"lo":4.75,"hi":8.03,"s":"Music only"},{"x":16,"y":7.13,"lo":5.48,"hi":9.27,"s":"Music only"},{"x":17,"y":7.29,"lo":5.4,"hi":9.84,"s":"Music only"},{"x":18,"y":8.15,"lo":5.62,"hi":11.8,"s":"Music only"},{"x":19,"y":10.4,"lo":7.43,"hi":17.7,"s":"Music only"},{"x":20,"y":10.7,"lo":7.93,"hi":17.7,"s":"Music only"},{"x":21,"y":10.4,"lo":6.5,"hi":16.6,"s":"Music only"},{"x":22,"y":11.6,"lo":7.48,"hi":18,"s":"Music only"},{"x":23,"y":10.7,"lo":6.69,"hi":17.1,"s":"Music only"},{"x":24,"y":13.4,"lo":7.88,"hi":22.8,"s":"Music only"},{"x":25,"y":14.4,"lo":8.23,"hi":25.2,"s":"Music only"},{"x":26,"y":13.8,"lo":8.63,"hi":22.1,"s":"Music only"},{"x":27,"y":14.9,"lo":8.51,"hi":26.1,"s":"Music only"},{"x":28,"y":19.2,"lo":10.7,"hi":34.6,"s":"Music only"},{"x":29,"y":21.2,"lo":11.2,"hi":40.3,"s":"Music only"},{"x":30,"y":22.6,"lo":12.2,"hi":41.8,"s":"Music only"}
    ]
  },
  "layer": [
    {
      "data": {"values": [{}]},
      "layer": [
        {"mark": {"type": "text", "text": ["Trained on filtered", "speech and music"], "font": "Liberation Sans", "fontSize": 32.6, "fontWeight": "bold", "lineHeight": 40, "align": "center", "baseline": "middle"},
         "encoding": {"x": {"datum": 0.1763, "type": "quantitative", "scale": {"domain": [0, 1], "range": [0, 1225], "nice": false, "zero": false}, "axis": null},
                      "y": {"datum": 0.0199, "type": "quantitative", "scale": {"domain": [0, 1], "range": [0, 1104], "nice": false, "zero": false}, "axis": null}}},
        {"mark": {"type": "text", "text": ["Trained on", "synthetic tones"], "font": "Liberation Sans", "fontSize": 32.6, "fontWeight": "bold", "lineHeight": 40, "align": "center", "baseline": "middle"},
         "encoding": {"x": {"datum": 0.5151, "type": "quantitative", "axis": null}, "y": {"datum": 0.0199, "type": "quantitative", "axis": null}}},
        {"mark": {"type": "text", "text": ["Trained separately on", "speech and music"], "font": "Liberation Sans", "fontSize": 32.6, "fontWeight": "bold", "lineHeight": 40, "align": "center", "baseline": "middle"},
         "encoding": {"x": {"datum": 0.8539, "type": "quantitative", "axis": null}, "y": {"datum": 0.0199, "type": "quantitative", "axis": null}}},
        {"mark": {"type": "rect", "color": "#000"},
         "encoding": {"x": {"datum": 0.0408, "type": "quantitative", "axis": null}, "x2": {"datum": 0.3118}, "y": {"datum": 0.0879, "type": "quantitative", "axis": null}, "y2": {"datum": 0.0960}}},
        {"mark": {"type": "rect", "color": "#000"},
         "encoding": {"x": {"datum": 0.3796, "type": "quantitative", "axis": null}, "x2": {"datum": 0.6506}, "y": {"datum": 0.0879, "type": "quantitative", "axis": null}, "y2": {"datum": 0.0960}}},
        {"mark": {"type": "rect", "color": "#000"},
         "encoding": {"x": {"datum": 0.7184, "type": "quantitative", "axis": null}, "x2": {"datum": 0.9894}, "y": {"datum": 0.0879, "type": "quantitative", "axis": null}, "y2": {"datum": 0.0960}}},
        {"mark": {"type": "text", "text": "a.", "font": "Liberation Sans", "fontSize": 32.4, "fontWeight": "bold", "align": "left", "baseline": "middle"},
         "encoding": {"x": {"datum": 0.0065, "type": "quantitative", "axis": null}, "y": {"datum": 0.1241, "type": "quantitative", "axis": null}}},
        {"mark": {"type": "text", "text": "Average power spectrum of training stimuli", "font": "Liberation Sans", "fontSize": 32.4, "align": "left", "baseline": "middle"},
         "encoding": {"x": {"datum": 0.0424, "type": "quantitative", "axis": null}, "y": {"datum": 0.1241, "type": "quantitative", "axis": null}}},
        {"mark": {"type": "text", "text": "b.", "font": "Liberation Sans", "fontSize": 32.4, "fontWeight": "bold", "align": "left", "baseline": "middle"},
         "encoding": {"x": {"datum": 0.0065, "type": "quantitative", "axis": null}, "y": {"datum": 0.4248, "type": "quantitative", "axis": null}}},
        {"mark": {"type": "text", "text": "F0 discrimination experiment (identical for all networks)", "font": "Liberation Sans", "fontSize": 32.4, "align": "left", "baseline": "middle"},
         "encoding": {"x": {"datum": 0.0424, "type": "quantitative", "axis": null}, "y": {"datum": 0.4248, "type": "quantitative", "axis": null}}},
        {"mark": {"type": "text", "text": "c.", "font": "Liberation Sans", "fontSize": 32.4, "fontWeight": "bold", "align": "left", "baseline": "middle"},
         "encoding": {"x": {"datum": 0.0065, "type": "quantitative", "axis": null}, "y": {"datum": 0.7255, "type": "quantitative", "axis": null}}},
        {"mark": {"type": "text", "text": "Effect of training set sound statistics on network F0 discrimination behavior", "font": "Liberation Sans", "fontSize": 32.4, "align": "left", "baseline": "middle"},
         "encoding": {"x": {"datum": 0.0424, "type": "quantitative", "axis": null}, "y": {"datum": 0.7255, "type": "quantitative", "axis": null}}},
        {"mark": {"type": "text", "text": ["Example stimuli: manipulating", "lowest harmonic number"], "font": "Liberation Sans", "fontSize": 28, "lineHeight": 32, "align": "center", "baseline": "middle"},
         "encoding": {"x": {"datum": 0.1935, "type": "quantitative", "axis": null}, "y": {"datum": 0.5435, "type": "quantitative", "axis": null}}},
        {"mark": {"type": "text", "text": ["Was the reported F0 for", "tone 1 or tone 2 higher?"], "font": "Liberation Sans", "fontSize": 27, "fontWeight": "bold", "fontStyle": "italic", "lineHeight": 32, "align": "center", "baseline": "middle"},
         "encoding": {"x": {"datum": 0.8457, "type": "quantitative", "axis": null}, "y": {"datum": 0.5435, "type": "quantitative", "axis": null}}}
      ]
    },
    {
      "data": {"name": "a1"},
      "resolve": {"scale": {"x": "shared", "y": "shared", "color": "shared"}, "axis": {"x": "independent", "y": "independent"}, "legend": {"color": "shared"}},
      "encoding": {
        "x": {"field": "f", "type": "quantitative", "scale": {"type": "log", "domain": [40, 16000], "range": [80, 375], "nice": false},
              "axis": {"orient": "bottom", "offset": -723, "title": "Frequency (Hz)", "titlePadding": 8, "labelPadding": 6,
                       "values": [50,60,70,80,90,100,200,300,400,500,600,700,800,900,1000,2000,3000,4000,5000,6000,7000,8000,9000,10000],
                       "labelExpr": "datum.value == 100 ? '10²' : datum.value == 1000 ? '10³' : datum.value == 10000 ? '10⁴' : ''",
                       "tickSize": {"condition": {"test": "indexof([100,1000,10000], datum.value) >= 0", "value": 6}, "value": 3.5}}},
        "y": {"field": "db", "type": "quantitative", "scale": {"domain": [-85, 5], "range": [381, 176], "nice": false, "zero": false},
              "axis": {"orient": "left", "offset": -80, "title": "Mean power (dB)", "titlePadding": 6, "labelPadding": 6,
                       "values": [-80,-75,-70,-65,-60,-55,-50,-45,-40,-35,-30,-25,-20,-15,-10,-5,0],
                       "labelExpr": "datum.value % 20 == 0 ? datum.label : ''",
                       "tickSize": {"condition": {"test": "datum.value % 20 == 0", "value": 6}, "value": 3.5}}}
      },
      "layer": [
        {"transform": [{"filter": "datum.s == 'Natural background noise'"}],
         "mark": {"type": "area"},
         "encoding": {"y2": {"datum": -85},
                      "color": {"field": "s", "type": "nominal",
                                "scale": {"domain": ["Speech + music (natural)", "Speech + music (lowpass)", "Speech + music (highpass)", "Natural background noise"], "range": ["#000000", "#990000", "#ff9933", "#c0c0c0"]},
                                "legend": {"legendX": 83, "legendY": 284}}}},
        {"transform": [{"filter": "datum.s != 'Natural background noise'"}],
         "mark": {"type": "line", "strokeWidth": 3},
         "encoding": {
           "x": {"field": "f", "type": "quantitative", "axis": {"orient": "top", "offset": -176, "labels": false, "ticks": false, "title": null}},
           "y": {"field": "db", "type": "quantitative", "axis": {"orient": "right", "offset": -850, "labels": false, "ticks": false, "title": null}},
           "color": {"field": "s", "type": "nominal", "legend": null}}}
      ]
    },
    {
      "data": {"name": "a2"},
      "resolve": {"scale": {"x": "shared", "y": "shared", "color": "shared"}, "axis": {"x": "independent", "y": "independent"}, "legend": {"color": "shared"}},
      "encoding": {
        "x": {"field": "f", "type": "quantitative", "scale": {"type": "log", "domain": [40, 16000], "range": [495, 790], "nice": false},
              "axis": {"orient": "bottom", "offset": -723, "title": null, "labelPadding": 6,
                       "values": [50,60,70,80,90,100,200,300,400,500,600,700,800,900,1000,2000,3000,4000,5000,6000,7000,8000,9000,10000],
                       "labelExpr": "datum.value == 100 ? '10²' : datum.value == 1000 ? '10³' : datum.value == 10000 ? '10⁴' : ''",
                       "tickSize": {"condition": {"test": "indexof([100,1000,10000], datum.value) >= 0", "value": 6}, "value": 3.5}}},
        "y": {"field": "db", "type": "quantitative", "scale": {"domain": [-85, 5], "range": [381, 176], "nice": false, "zero": false},
              "axis": {"orient": "left", "offset": -495, "title": null, "labelPadding": 6,
                       "values": [-80,-75,-70,-65,-60,-55,-50,-45,-40,-35,-30,-25,-20,-15,-10,-5,0],
                       "labelExpr": "datum.value % 20 == 0 ? replace(datum.label, '−', '-') : ''",
                       "tickSize": {"condition": {"test": "datum.value % 20 == 0", "value": 6}, "value": 3.5}}}
      },
      "layer": [
        {"transform": [{"filter": "datum.s == 'Synthetic noise (matched)'"}],
         "mark": {"type": "area"},
         "encoding": {"y2": {"datum": -85},
                      "color": {"field": "s", "type": "nominal",
                                "scale": {"domain": ["Synthetic tones (matched)", "Synthetic tones (anti-matched)", "Synthetic noise (matched)"], "range": ["#000000", "#ff9933", "#c0c0c0"]},
                                "legend": {"legendX": 497, "legendY": 305}}}},
        {"transform": [{"filter": "datum.s != 'Synthetic noise (matched)'"}],
         "mark": {"type": "line", "strokeWidth": 3},
         "encoding": {
           "x": {"field": "f", "type": "quantitative", "axis": {"orient": "top", "offset": -176, "labels": false, "ticks": false, "title": null}},
           "y": {"field": "db", "type": "quantitative", "axis": {"orient": "right", "offset": -435, "labels": false, "ticks": false, "title": null}},
           "color": {"field": "s", "type": "nominal", "legend": null}}}
      ]
    },
    {
      "data": {"name": "a3"},
      "resolve": {"scale": {"x": "shared", "y": "shared", "color": "shared"}, "axis": {"x": "independent", "y": "independent"}, "legend": {"color": "shared"}},
      "encoding": {
        "x": {"field": "f", "type": "quantitative", "scale": {"type": "log", "domain": [40, 16000], "range": [910, 1205], "nice": false},
              "axis": {"orient": "bottom", "offset": -723, "title": null, "labelPadding": 6,
                       "values": [50,60,70,80,90,100,200,300,400,500,600,700,800,900,1000,2000,3000,4000,5000,6000,7000,8000,9000,10000],
                       "labelExpr": "datum.value == 100 ? '10²' : datum.value == 1000 ? '10³' : datum.value == 10000 ? '10⁴' : ''",
                       "tickSize": {"condition": {"test": "indexof([100,1000,10000], datum.value) >= 0", "value": 6}, "value": 3.5}}},
        "y": {"field": "db", "type": "quantitative", "scale": {"domain": [-85, 5], "range": [381, 176], "nice": false, "zero": false},
              "axis": {"orient": "left", "offset": -910, "title": null, "labelPadding": 6,
                       "values": [-80,-75,-70,-65,-60,-55,-50,-45,-40,-35,-30,-25,-20,-15,-10,-5,0],
                       "labelExpr": "datum.value % 20 == 0 ? datum.label : ''",
                       "tickSize": {"condition": {"test": "datum.value % 20 == 0", "value": 6}, "value": 3.5}}}
      },
      "layer": [
        {"transform": [{"filter": "datum.s == 'Natural background noise'"}],
         "mark": {"type": "area"},
         "encoding": {"y2": {"datum": -85},
                      "color": {"field": "s", "type": "nominal",
                                "scale": {"domain": ["Speech only", "Music only", "Natural background noise"], "range": ["#3a6db5", "#ec0c7e", "#c0c0c0"]},
                                "legend": {"legendX": 913, "legendY": 305}}}},
        {"transform": [{"filter": "datum.s != 'Natural background noise'"}],
         "mark": {"type": "line", "strokeWidth": 3},
         "encoding": {
           "x": {"field": "f", "type": "quantitative", "axis": {"orient": "top", "offset": -176, "labels": false, "ticks": false, "title": null}},
           "y": {"field": "db", "type": "quantitative", "axis": {"orient": "right", "offset": -20, "labels": false, "ticks": false, "title": null}},
           "color": {"field": "s", "type": "nominal", "legend": null}}}
      ]
    },
    {
      "data": {"name": "harm"},
      "encoding": {
        "x": {"field": "t", "type": "nominal", "scale": {"type": "band", "domain": ["Tone 1", "Tone 2"], "range": [476, 627], "paddingInner": 0.328, "paddingOuter": 0.368},
              "axis": {"orient": "bottom", "offset": -370, "title": "Time", "labels": false, "ticks": false, "domainColor": "#555", "titleFontSize": 15, "titlePadding": 10}},
        "y": {"field": "f", "type": "quantitative", "scale": {"domain": [0, 29.4], "range": [734, 515], "nice": false},
              "axis": {"orient": "left", "offset": -476, "title": "Frequency", "labels": false, "ticks": false, "domainColor": "#555", "titleFontSize": 15, "titlePadding": 10}}
      },
      "layer": [
        {"transform": [{"filter": "datum.v1 > 0"}],
         "mark": {"type": "tick", "thickness": 3.3},
         "encoding": {"size": {"value": 42}, "color": {"field": "v1", "type": "quantitative", "scale": {"domain": [0, 1], "range": ["#ffffff", "#000000"]}, "legend": null}}},
        {"mark": {"type": "text", "fontSize": 6.5, "dx": -27, "color": "#222"},
         "encoding": {"text": {"field": "n", "type": "quantitative"}}},
        {"transform": [{"filter": "datum.n == 1"}],
         "mark": {"type": "text", "fontSize": 14},
         "encoding": {"y": {"datum": 28.1, "type": "quantitative"}, "text": {"field": "t", "type": "nominal"}}}
      ]
    },
    {
      "data": {"name": "harm"},
      "encoding": {
        "x": {"field": "t", "type": "nominal", "scale": {"type": "band", "domain": ["Tone 1", "Tone 2"], "range": [677, 826], "paddingInner": 0.328, "paddingOuter": 0.368},
              "axis": {"orient": "bottom", "offset": -370, "title": "Time", "labels": false, "ticks": false, "domainColor": "#555", "titleFontSize": 15, "titlePadding": 10}},
        "y": {"field": "f", "type": "quantitative", "scale": {"domain": [0, 29.4], "range": [734, 515], "nice": false},
              "axis": {"orient": "left", "offset": -677, "title": "Frequency", "labels": false, "ticks": false, "domainColor": "#555", "titleFontSize": 15, "titlePadding": 10}}
      },
      "layer": [
        {"transform": [{"filter": "datum.v2 > 0"}],
         "mark": {"type": "tick", "thickness": 3.3},
         "encoding": {"size": {"value": 42}, "color": {"field": "v2", "type": "quantitative", "scale": {"domain": [0, 1], "range": ["#ffffff", "#000000"]}, "legend": null}}},
        {"mark": {"type": "text", "fontSize": 6.5, "dx": -27, "color": "#222"},
         "encoding": {"text": {"field": "n", "type": "quantitative"}}},
        {"transform": [{"filter": "datum.n == 1"}],
         "mark": {"type": "text", "fontSize": 14},
         "encoding": {"y": {"datum": 28.1, "type": "quantitative"}, "text": {"field": "t", "type": "nominal"}}}
      ]
    },
    {
      "data": {"name": "c1"},
      "resolve": {"scale": {"x": "shared", "y": "shared", "color": "shared"}, "axis": {"x": "independent", "y": "independent"}, "legend": {"color": "shared"}},
      "encoding": {
        "x": {"field": "x", "type": "quantitative", "scale": {"domain": [0, 30.3], "range": [105, 368], "nice": false, "zero": false},
              "axis": {"orient": "bottom", "offset": -54, "title": "Lowest harmonic number", "titlePadding": 8, "labelPadding": 7,
                       "values": [0,1,2,3,4,5,6,7,8,9,10,11,12,13,14,15,16,17,18,19,20,21,22,23,24,25,26,27,28,29,30],
                       "labelExpr": "datum.value % 5 == 0 ? datum.label : ''",
                       "tickSize": {"condition": {"test": "datum.value % 5 == 0", "value": 6}, "value": 3.5}}}
      },
      "layer": [
        {"mark": {"type": "area", "opacity": 0.2},
         "encoding": {
           "y": {"field": "lo", "type": "quantitative", "scale": {"type": "log", "domain": [0.1, 100], "range": [1050, 841], "nice": false, "clamp": true},
                 "axis": {"orient": "left", "offset": -105, "title": ["F0 discrimination", "threshold (%F0)"], "titleLineHeight": 21, "titlePadding": 1, "labelPadding": 13,
                          "values": [0.1,0.2,0.3,0.4,0.5,0.6,0.7,0.8,0.9,1,2,3,4,5,6,7,8,9,10,20,30,40,50,60,70,80,90,100],
                          "labelExpr": "datum.value == 0.1 ? '10⁻¹' : datum.value == 1 ? '10⁰' : datum.value == 10 ? '10¹' : datum.value == 100 ? '10²' : ''",
                          "tickSize": {"condition": {"test": "indexof([0.1,1,10,100], datum.value) >= 0", "value": 6}, "value": 3.5}}},
           "y2": {"field": "hi"},
           "color": {"field": "s", "type": "nominal", "scale": {"domain": ["Natural", "Lowpass", "Highpass"], "range": ["#000000", "#990000", "#ff9933"]},
                     "legend": {"legendX": 269, "legendY": 846}}}},
        {"mark": {"type": "line", "strokeWidth": 3.5},
         "encoding": {
           "x": {"field": "x", "type": "quantitative", "axis": {"orient": "top", "offset": -841, "labels": false, "ticks": false, "title": null}},
           "y": {"field": "y", "type": "quantitative", "axis": {"orient": "right", "offset": -857, "labels": false, "ticks": false, "title": null}},
           "color": {"field": "s", "type": "nominal", "legend": null}}}
      ]
    },
    {
      "data": {"name": "c2"},
      "resolve": {"scale": {"x": "shared", "y": "shared", "color": "shared"}, "axis": {"x": "independent", "y": "independent"}, "legend": {"color": "shared"}},
      "encoding": {
        "x": {"field": "x", "type": "quantitative", "scale": {"domain": [0, 31], "range": [520, 790], "nice": false, "zero": false},
              "axis": {"orient": "bottom", "offset": -54, "title": null, "labelPadding": 7,
                       "values": [0,1,2,3,4,5,6,7,8,9,10,11,12,13,14,15,16,17,18,19,20,21,22,23,24,25,26,27,28,29,30],
                       "labelExpr": "datum.value % 5 == 0 ? datum.label : ''",
                       "tickSize": {"condition": {"test": "datum.value % 5 == 0", "value": 6}, "value": 3.5}}}
      },
      "layer": [
        {"mark": {"type": "area", "opacity": 0.2},
         "encoding": {
           "y": {"field": "lo", "type": "quantitative", "scale": {"type": "log", "domain": [0.1, 100], "range": [1050, 841], "nice": false, "clamp": true},
                 "axis": {"orient": "left", "offset": -520, "title": null, "labelPadding": 13,
                          "values": [0.1,0.2,0.3,0.4,0.5,0.6,0.7,0.8,0.9,1,2,3,4,5,6,7,8,9,10,20,30,40,50,60,70,80,90,100],
                          "labelExpr": "datum.value == 0.1 ? '10⁻¹' : datum.value == 1 ? '10⁰' : datum.value == 10 ? '10¹' : datum.value == 100 ? '10²' : ''",
                          "tickSize": {"condition": {"test": "indexof([0.1,1,10,100], datum.value) >= 0", "value": 6}, "value": 3.5}}},
           "y2": {"field": "hi"},
           "color": {"field": "s", "type": "nominal", "scale": {"domain": ["Matched", "Anti-matched"], "range": ["#000000", "#ff9933"]},
                     "legend": {"legendX": 653, "legendY": 845}}}},
        {"mark": {"type": "line", "strokeWidth": 3.5},
         "encoding": {
           "x": {"field": "x", "type": "quantitative", "axis": {"orient": "top", "offset": -841, "labels": false, "ticks": false, "title": null}},
           "y": {"field": "y", "type": "quantitative", "axis": {"orient": "right", "offset": -435, "labels": false, "ticks": false, "title": null}},
           "color": {"field": "s", "type": "nominal", "legend": null}}}
      ]
    },
    {
      "data": {"name": "c3"},
      "resolve": {"scale": {"x": "shared", "y": "shared", "color": "shared"}, "axis": {"x": "independent", "y": "independent"}, "legend": {"color": "shared"}},
      "encoding": {
        "x": {"field": "x", "type": "quantitative", "scale": {"domain": [0, 31], "range": [935, 1205], "nice": false, "zero": false},
              "axis": {"orient": "bottom", "offset": -54, "title": null, "labelPadding": 7,
                       "values": [0,1,2,3,4,5,6,7,8,9,10,11,12,13,14,15,16,17,18,19,20,21,22,23,24,25,26,27,28,29,30],
                       "labelExpr": "datum.value % 5 == 0 ? datum.label : ''",
                       "tickSize": {"condition": {"test": "datum.value % 5 == 0", "value": 6}, "value": 3.5}}}
      },
      "layer": [
        {"mark": {"type": "area", "opacity": 0.2},
         "encoding": {
           "y": {"field": "lo", "type": "quantitative", "scale": {"type": "log", "domain": [0.1, 100], "range": [1050, 841], "nice": false, "clamp": true},
                 "axis": {"orient": "left", "offset": -935, "title": null, "labelPadding": 13,
                          "values": [0.1,0.2,0.3,0.4,0.5,0.6,0.7,0.8,0.9,1,2,3,4,5,6,7,8,9,10,20,30,40,50,60,70,80,90,100],
                          "labelExpr": "datum.value == 0.1 ? '10⁻¹' : datum.value == 1 ? '10⁰' : datum.value == 10 ? '10¹' : datum.value == 100 ? '10²' : ''",
                          "tickSize": {"condition": {"test": "indexof([0.1,1,10,100], datum.value) >= 0", "value": 6}, "value": 3.5}}},
           "y2": {"field": "hi"},
           "color": {"field": "s", "type": "nominal", "scale": {"domain": ["Speech only", "Music only"], "range": ["#3a6db5", "#ec0c7e"]},
                     "legend": {"legendX": 1078, "legendY": 995}}}},
        {"mark": {"type": "line", "strokeWidth": 3.5},
         "encoding": {
           "x": {"field": "x", "type": "quantitative", "axis": {"orient": "top", "offset": -841, "labels": false, "ticks": false, "title": null}},
           "y": {"field": "y", "type": "quantitative", "axis": {"orient": "right", "offset": -20, "labels": false, "ticks": false, "title": null}},
           "color": {"field": "s", "type": "nominal", "legend": null}}}
      ]
    }
  ]
}
